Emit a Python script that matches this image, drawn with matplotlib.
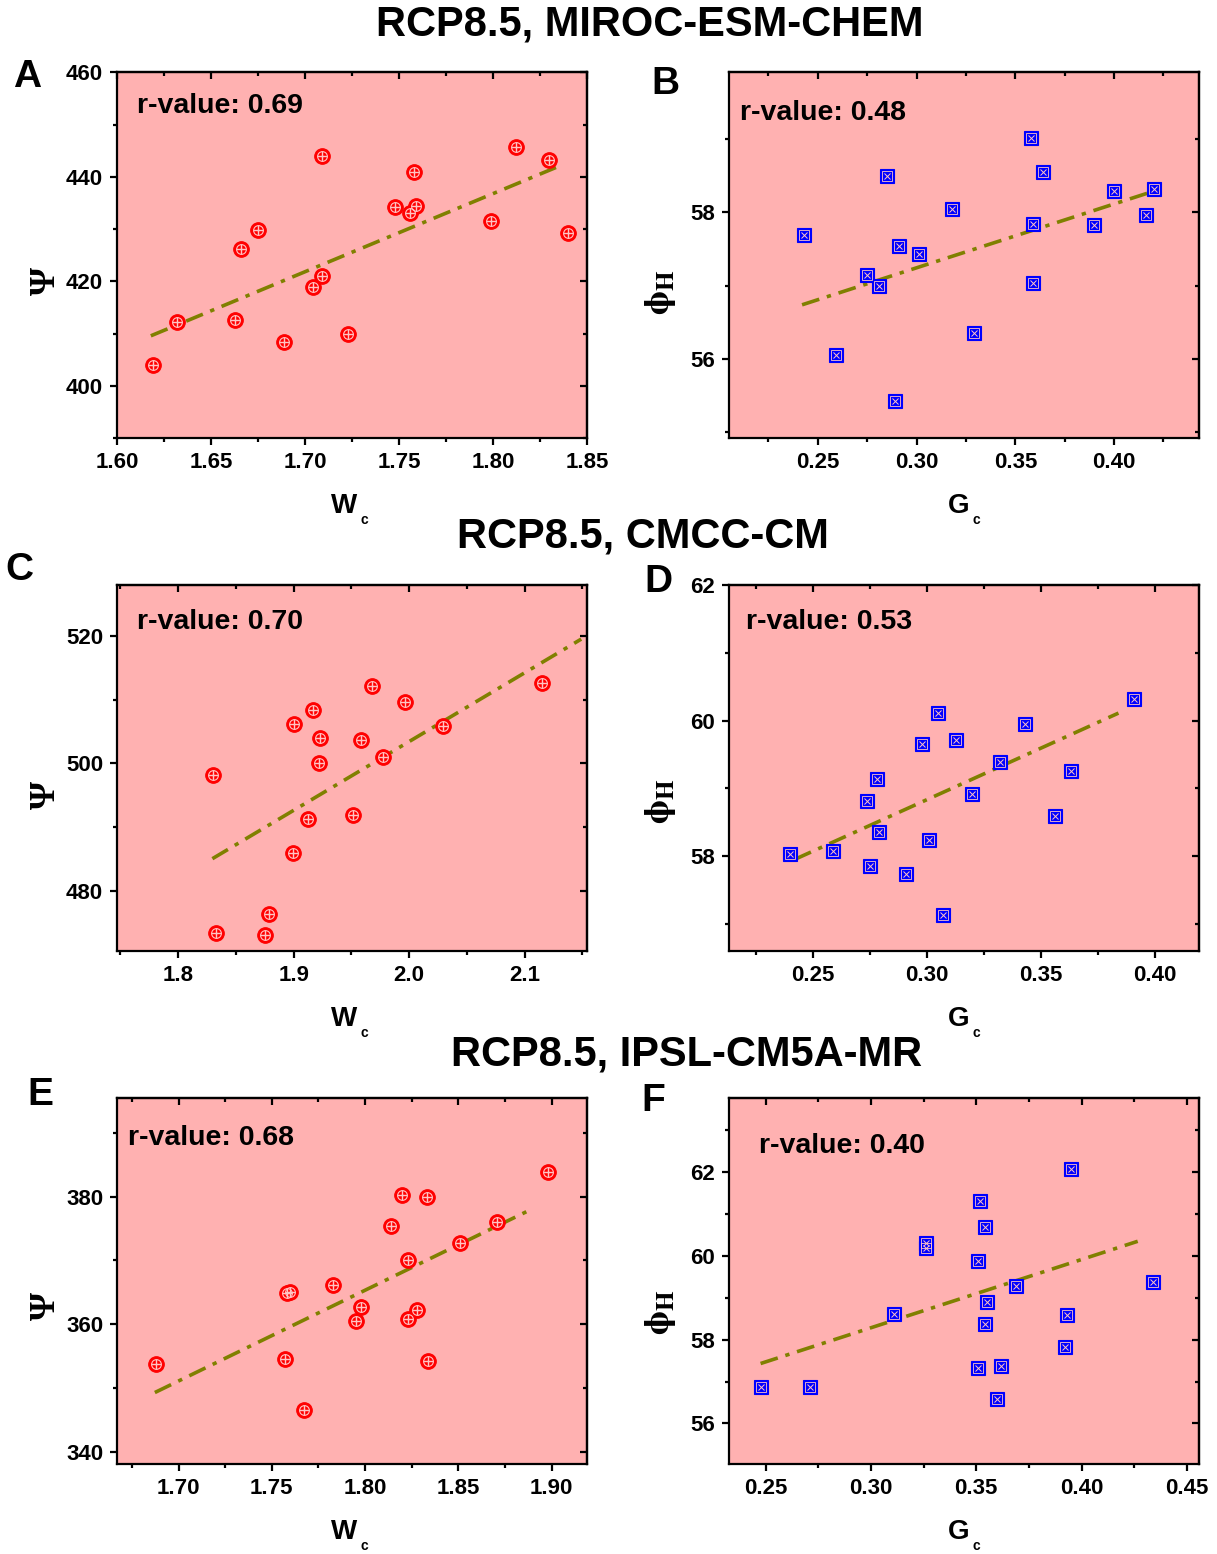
import numpy as np
import matplotlib
matplotlib.use("Agg")
import matplotlib.pyplot as plt
from matplotlib.ticker import MultipleLocator

plt.rcParams["font.family"] = ["Liberation Sans", "DejaVu Sans"]
plt.rcParams["font.weight"] = "bold"

# ---- data ----
a_x = [1.619, 1.632, 1.663, 1.666, 1.675, 1.689, 1.704, 1.709, 1.709, 1.723,
       1.748, 1.756, 1.759, 1.758, 1.799, 1.812, 1.830, 1.840]
a_y = [404.1, 412.2, 412.6, 426.3, 429.9, 408.5, 419.0, 421.1, 444.0, 409.9,
       434.2, 433.0, 434.4, 441.0, 431.6, 445.8, 443.3, 429.2]
a_fit_x = [1.618, 1.8335]
a_fit_y = [409.6, 441.8]

b_x = [0.243, 0.259, 0.275, 0.281, 0.285, 0.291, 0.289, 0.301, 0.318, 0.329,
       0.358, 0.359, 0.359, 0.364, 0.390, 0.400, 0.416, 0.420]
b_y = [57.69, 56.05, 57.15, 57.00, 58.50, 57.54, 55.43, 57.43, 58.05, 56.35,
       59.01, 57.84, 57.04, 58.55, 57.83, 58.29, 57.96, 58.32]
b_fit_x = [0.242, 0.419]
b_fit_y = [56.74, 58.28]

c_x = [1.830, 1.833, 1.875, 1.879, 1.899, 1.900, 1.912, 1.917, 1.923, 1.922,
       1.951, 1.958, 1.968, 1.977, 1.996, 2.029, 2.115]
c_y = [498.2, 473.3, 473.0, 476.3, 485.9, 506.1, 491.2, 508.3, 504.0, 500.0,
       491.9, 503.6, 512.2, 500.9, 509.6, 505.8, 512.6]
c_fit_x = [1.8296, 2.149]
c_fit_y = [485.0, 519.5]

d_x = [0.240, 0.259, 0.274, 0.278, 0.279, 0.275, 0.291, 0.301, 0.298, 0.305,
       0.307, 0.313, 0.320, 0.332, 0.343, 0.356, 0.363, 0.391]
d_y = [58.03, 58.07, 58.82, 59.14, 58.36, 57.85, 57.74, 58.24, 59.65, 60.11,
       57.13, 59.72, 58.92, 59.39, 59.95, 58.59, 59.26, 60.32]
d_fit_x = [0.242, 0.384]
d_fit_y = [57.95, 60.11]

e_x = [1.688, 1.757, 1.758, 1.760, 1.767, 1.783, 1.795, 1.798, 1.814, 1.820,
       1.833, 1.823, 1.823, 1.828, 1.834, 1.851, 1.871, 1.898]
e_y = [353.8, 354.6, 364.9, 365.1, 346.6, 366.2, 360.5, 362.7, 375.4, 380.2,
       380.0, 370.0, 360.9, 362.2, 354.3, 372.8, 376.0, 383.9]
e_fit_x = [1.6873, 1.8898]
e_fit_y = [349.3, 378.1]

f_x = [0.248, 0.271, 0.311, 0.326, 0.326, 0.351, 0.352, 0.354, 0.355, 0.354,
       0.351, 0.362, 0.360, 0.369, 0.395, 0.393, 0.392, 0.434]
f_y = [56.86, 56.86, 58.62, 60.31, 60.19, 59.88, 61.31, 60.68, 58.90, 58.38,
       57.33, 57.37, 56.59, 59.28, 62.07, 58.58, 57.82, 59.37]
f_fit_x = [0.2476, 0.4267]
f_fit_y = [57.43, 60.35]

r_values = ["0.69", "0.48", "0.70", "0.53", "0.68", "0.40"]
titles = ["RCP8.5, MIROC-ESM-CHEM", "RCP8.5, CMCC-CM", "RCP8.5, IPSL-CM5A-MR"]
letters = ["A", "B", "C", "D", "E", "F"]

BG = "#ffb1b1"
INNER = "#ffc4c4"
LINE = "#808000"
W, H = 1217, 1554


def add_axes(left_px, top_px, right_px, bottom_px):
    return fig.add_axes([left_px / W, 1 - bottom_px / H,
                         (right_px - left_px) / W, (bottom_px - top_px) / H])


def style(ax, xlim, ylim, xmaj, ymaj):
    ax.set_facecolor(BG)
    ax.set_xlim(xlim)
    ax.set_ylim(ylim)
    for s in ax.spines.values():
        s.set_linewidth(1.6)
    ax.xaxis.set_major_locator(MultipleLocator(xmaj))
    ax.xaxis.set_minor_locator(MultipleLocator(xmaj / 2))
    ax.yaxis.set_major_locator(MultipleLocator(ymaj))
    ax.yaxis.set_minor_locator(MultipleLocator(ymaj / 2))
    ax.tick_params(which="both", direction="out", width=1.6, labelsize=16, pad=5)
    ax.tick_params(which="major", length=5)
    ax.tick_params(which="minor", length=3)
    # mirrored ticks pointing inward on top/right
    top = ax.secondary_xaxis("top")
    top.xaxis.set_major_locator(MultipleLocator(xmaj))
    top.xaxis.set_minor_locator(MultipleLocator(xmaj / 2))
    top.tick_params(which="both", direction="in", width=1.6, labeltop=False)
    top.tick_params(which="major", length=5)
    top.tick_params(which="minor", length=3)
    right = ax.secondary_yaxis("right")
    right.yaxis.set_major_locator(MultipleLocator(ymaj))
    right.yaxis.set_minor_locator(MultipleLocator(ymaj / 2))
    right.tick_params(which="both", direction="in", width=1.6, labelright=False)
    right.tick_params(which="major", length=5)
    right.tick_params(which="minor", length=3)
    for s in list(top.spines.values()) + list(right.spines.values()):
        s.set_linewidth(1.6)


def circles(ax, x, y):
    ax.plot(x, y, "o", ms=11.2, mfc="red", mec="red", mew=0.8, ls="none", zorder=4)
    ax.plot(x, y, "o", ms=7.0, mfc="none", mec=INNER, mew=0.8, ls="none", zorder=5)
    ax.plot(x, y, "+", ms=7.0, mec=INNER, mew=1.0, ls="none", zorder=5)


def squares(ax, x, y):
    ax.plot(x, y, "s", ms=10.4, mfc="blue", mec="blue", mew=0.8, ls="none", zorder=4)
    ax.plot(x, y, "s", ms=7.0, mfc="none", mec=INNER, mew=0.6, ls="none", zorder=5)
    ax.plot(x, y, "x", ms=4.8, mec=INNER, mew=0.7, ls="none", zorder=5)


def fit_line(ax, xs, ys):
    ax.plot(xs, ys, color=LINE, lw=2.6, ls=(0, (5, 2.2, 1.2, 2.2)), zorder=3)


def xlabel(ax, main, sub):
    ax.annotate(main, xy=(0.5, -0.204), xycoords="axes fraction",
                xytext=(4, 0), textcoords="offset points",
                ha="right", va="baseline", fontsize=20, fontweight="bold")
    ax.annotate(sub, xy=(0.5, -0.204), xycoords="axes fraction",
                xytext=(6, -8), textcoords="offset points",
                ha="left", va="baseline", fontsize=10, fontweight="bold")


def psi_label(ax, yfrac):
    ax.text(-0.15, yfrac, "Ψ", transform=ax.transAxes, rotation=90,
            ha="center", va="center", fontsize=26, fontweight="bold",
            family=["Liberation Serif", "DejaVu Serif"])


def phi_label(ax, yfrac):
    ax.text(-0.145, yfrac, r"$\mathrm{\phi}_{\mathrm{H}}$", transform=ax.transAxes,
            rotation=90, ha="center", va="center", fontsize=26, math_fontfamily="stix")


fig = plt.figure(figsize=(W / 100, H / 100), dpi=100)

rows = [(72.3, 438.3), (585.0, 951.0), (1097.7, 1464.0)]
lcol = (117, 587)
rcol = (729, 1199)

axA = add_axes(lcol[0], rows[0][0], lcol[1], rows[0][1])
axB = add_axes(rcol[0], rows[0][0], rcol[1], rows[0][1])
axC = add_axes(lcol[0], rows[1][0], lcol[1], rows[1][1])
axD = add_axes(rcol[0], rows[1][0], rcol[1], rows[1][1])
axE = add_axes(lcol[0], rows[2][0], lcol[1], rows[2][1])
axF = add_axes(rcol[0], rows[2][0], rcol[1], rows[2][1])

style(axA, (1.60, 1.85), (390, 460), 0.05, 20)
style(axB, (0.205, 0.443), (54.92, 59.91), 0.05, 2)
style(axC, (1.747, 2.154), (470.5, 528), 0.1, 20)
style(axD, (0.2133, 0.4193), (56.6, 62), 0.05, 2)
style(axE, (1.667, 1.919), (338.1, 395.5), 0.05, 20)
style(axF, (0.2326, 0.4558), (55.03, 63.78), 0.05, 2)

axA.xaxis.set_major_formatter(lambda v, p: f"{v:.2f}")
axB.xaxis.set_major_formatter(lambda v, p: f"{v:.2f}")
axC.xaxis.set_major_formatter(lambda v, p: f"{v:.1f}")
axD.xaxis.set_major_formatter(lambda v, p: f"{v:.2f}")
axE.xaxis.set_major_formatter(lambda v, p: f"{v:.2f}")
axF.xaxis.set_major_formatter(lambda v, p: f"{v:.2f}")

circles(axA, a_x, a_y)
fit_line(axA, a_fit_x, a_fit_y)
squares(axB, b_x, b_y)
fit_line(axB, b_fit_x, b_fit_y)
circles(axC, c_x, c_y)
fit_line(axC, c_fit_x, c_fit_y)
squares(axD, d_x, d_y)
fit_line(axD, d_fit_x, d_fit_y)
circles(axE, e_x, e_y)
fit_line(axE, e_fit_x, e_fit_y)
squares(axF, f_x, f_y)
fit_line(axF, f_fit_x, f_fit_y)

r_pos = [(0.043, 0.908), (0.023, 0.889), (0.043, 0.899),
         (0.036, 0.900), (0.023, 0.890), (0.064, 0.868)]
all_axes = [axA, axB, axC, axD, axE, axF]
for ax, r, (px, py) in zip(all_axes, r_values, r_pos):
    ax.text(px, py, f"r-value: {r}", transform=ax.transAxes, ha="left", va="center",
            fontsize=20.5, fontweight="bold", zorder=6)

for ax in (axA, axC, axE):
    xlabel(ax, "W", "c")
for ax in (axB, axD, axF):
    xlabel(ax, "G", "c")

psi_label(axA, 0.43)
psi_label(axC, 0.425)
psi_label(axE, 0.43)
phi_label(axB, 0.40)
phi_label(axD, 0.41)
phi_label(axF, 0.415)

# row titles
for t, (cx, cy) in zip(titles, [(650, 25), (643, 536), (687, 1055)]):
    fig.text(cx / W, 1 - cy / H, t, ha="center", va="center", fontsize=30, fontweight="bold")

# panel letters
for lt, (cx, cy) in zip(letters, [(27, 77), (665, 84), (19, 570),
                                  (658, 582), (40, 1095), (653, 1101)]):
    fig.text(cx / W, 1 - cy / H, lt, ha="center", va="center", fontsize=28, fontweight="bold")

fig.savefig("out.png", dpi=100)
